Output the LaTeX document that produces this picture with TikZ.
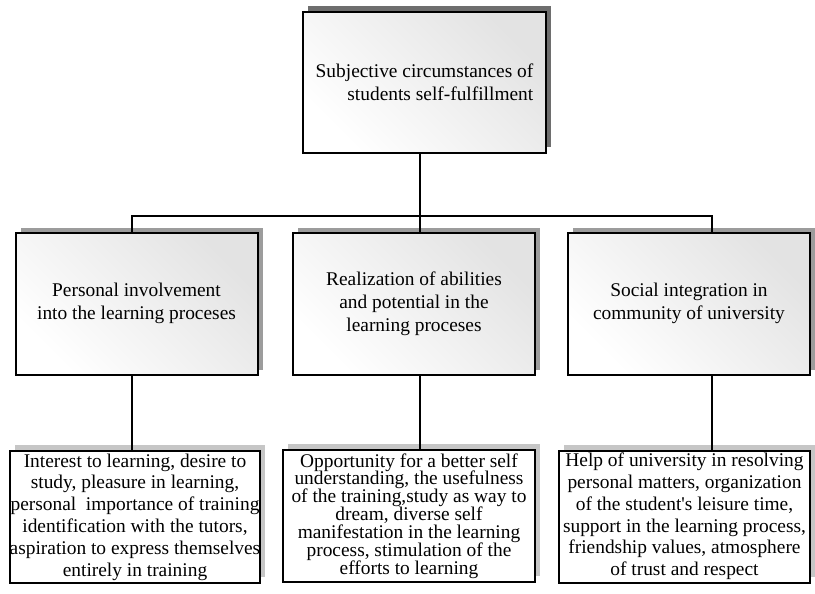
\documentclass[tikz,border=0pt]{standalone}
\usepackage{fontspec}
\setmainfont{Liberation Serif}
\usetikzlibrary{positioning,shadows}

\definecolor{shadowdark}{HTML}{6E6E6E}
\definecolor{shadowmid}{HTML}{9C9C9C}
\definecolor{shadowlight}{HTML}{C6C6C6}

\begin{document}
\begin{tikzpicture}[x=1pt,y=-1pt,on grid,
    font=\fontsize{19.4}{23}\selectfont,
    head/.style={draw,line width=2pt,top color=black!11,bottom color=white,
      shading angle=-45,minimum width=243pt,minimum height=141pt,align=right,
      drop shadow={shadow xshift=5pt,shadow yshift=6pt,fill=shadowdark,opacity=1}},
    group/.style={draw,line width=2pt,top color=black!11,bottom color=white,
      shading angle=-45,minimum width=242pt,minimum height=142pt,align=center,
      drop shadow={shadow xshift=5pt,shadow yshift=5pt,fill=shadowmid,opacity=1}},
    factor/.style={draw,line width=2pt,fill=white,minimum height=132pt,
      inner sep=0pt,align=center,font=\fontsize{19.4}{21.8}\selectfont,
      drop shadow={shadow xshift=5pt,shadow yshift=6pt,fill=shadowlight,opacity=1}},
    link/.style={line width=1.8pt}]
  \useasboundingbox (0,0) rectangle (815,594);

  \node[head] (s_0) at (424.5,82.5) {Subjective circumstances of\\students self-fulfillment};

  \node[group] (s_1) at (136.5,303.5) {Personal involvement\\into the learning proceses};
  \node[group] (s_2) [right=277.5pt of s_1] {Realization of abilities\\and potential in the\\learning proceses};
  \node[group] (s_3) [right=275pt of s_2] {Social integration in\\community of university};

  \node[factor,minimum width=246pt] (f_1) [below=213.5pt of s_1,xshift=-1.5pt]
    {Interest to learning, desire to\\study, pleasure in learning,\\personal\ \ importance of training\\identification with the tutors,\\aspiration to express themselves\\entirely in training};
  \node[factor,minimum width=252pt,font=\fontsize{19.4}{17.9}\selectfont] (f_2) [below=212.5pt of s_2,xshift=-5pt]
    {Opportunity for a better self\\understanding, the usefulness\\of the training,study as way to\\dream, diverse self\\manifestation in the learning\\process, stimulation of the\\efforts to learning};
  \node[factor,minimum width=251pt] (f_3) [below=213pt of s_3,xshift=-4.5pt]
    {Help of university in resolving\\personal matters, organization\\of the student\textquotesingle s leisure time,\\support in the learning process,\\friendship values, atmosphere\\of trust and respect};

  \coordinate (b_1) at (132,216);
  \coordinate (b_2) at (420,216);
  \coordinate (b_3) at (712,216);

  \draw[link] (s_1.north -| b_1) -- (b_1) -- (b_3) -- (s_3.north -| b_3);
  \path[link]
    (s_0.south -| b_2) edge (b_2)
    (b_2)              edge (s_2.north -| b_2)
    (s_1.south -| b_1) edge (f_1.north -| b_1)
    (s_2.south -| b_2) edge (f_2.north -| b_2)
    (s_3.south -| b_3) edge (f_3.north -| b_3);
\end{tikzpicture}
\end{document}
